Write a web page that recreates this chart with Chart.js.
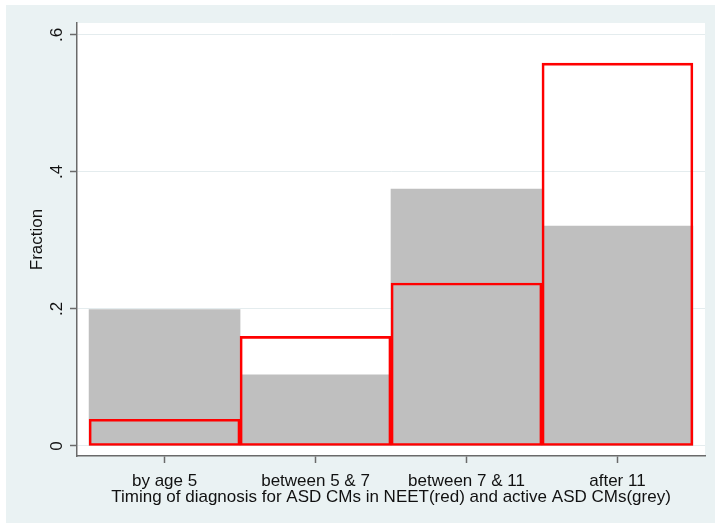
<!DOCTYPE html>
<html>
<head>
<meta charset="utf-8">
<script src="https://cdn.jsdelivr.net/npm/chart.js@4/dist/chart.umd.min.js"></script>
<style>
  html, body { margin: 0; padding: 0; background: #ffffff; }
  #wrap { position: absolute; left: 0; top: 0; width: 715px; height: 523px; }
</style>
</head>
<body>
<div id="wrap"><canvas id="c" width="715" height="523"></canvas></div>
<script>
// ---- data ----
const categories = ['by age 5', 'between 5 & 7', 'between 7 & 11', 'after 11'];
const activeGrey = [0.199, 0.104, 0.375, 0.321];   // active ASD CMs (grey)
const neetRed    = [0.039, 0.160, 0.238, 0.559];   // ASD CMs in NEET (red)
const yTickValues = [0, 0.2, 0.4, 0.6];
const yTickLabels = ['0', '.2', '.4', '.6'];
const xTitle = 'Timing of diagnosis for ASD CMs in NEET(red) and active ASD CMs(grey)';
const yTitle = 'Fraction';

const FONT = 'Liberation Sans, Arial, sans-serif';
const AXIS = '#6a6a6a';

const bgPlugin = {
  id: 'stataBg',
  beforeDraw(chart) {
    const ctx = chart.ctx, a = chart.chartArea;
    ctx.save();
    ctx.fillStyle = '#ffffff';
    ctx.fillRect(0, 0, chart.width, chart.height);
    ctx.fillStyle = '#EAF2F3';
    ctx.fillRect(6, 5, chart.width - 6, chart.height - 5);
    ctx.fillStyle = '#ffffff';
    ctx.fillRect(a.left, a.top, a.right - a.left, a.bottom - a.top);
    ctx.restore();
  }
};

new Chart(document.getElementById('c'), {
  type: 'bar',
  data: {
    datasets: [
      {
        label: 'NEET',
        data: categories.map((c, i) => ({ x: i + 0.5, y: neetRed[i] })),
        backgroundColor: 'rgba(0,0,0,0)',
        borderColor: '#FF0000',
        borderWidth: 2,
        borderSkipped: false,
        order: 0
      },
      {
        label: 'active',
        data: categories.map((c, i) => ({ x: i + 0.5, y: activeGrey[i] })),
        backgroundColor: '#BFBFBF',
        borderWidth: 0,
        order: 1
      }
    ]
  },
  options: {
    responsive: false,
    animation: false,
    events: [],
    grouped: false,
    barPercentage: 1,
    categoryPercentage: 1,
    layout: { padding: { left: 29, top: 23, right: 10, bottom: 17.5 } },
    plugins: { legend: { display: false }, tooltip: { enabled: false } },
    scales: {
      x: {
        type: 'linear',
        offset: false,
        min: -0.08,
        max: 4.08,
        afterBuildTicks(scale) { scale.ticks = categories.map((c, i) => ({ value: i + 0.5 })); },
        afterFit(scale) { scale.height = 49.5; scale.paddingLeft = 0; scale.paddingRight = 0; scale.paddingTop = 0; scale.paddingBottom = 0; },
        ticks: {
          callback: (v, i) => categories[i],
          font: { family: FONT, size: 17, lineHeight: 1 },
          color: '#111111',
          padding: 9.5,
          maxRotation: 0,
          minRotation: 0,
          autoSkip: false
        },
        grid: { drawOnChartArea: false, drawTicks: true, tickLength: 7, tickColor: AXIS, tickWidth: 1.5, offset: false },
        border: { display: true, color: AXIS, width: 1.5 },
        title: {
          display: true,
          text: xTitle,
          font: { family: FONT, size: 17, lineHeight: 1 },
          color: '#111111',
          padding: { top: 0.5, bottom: 0 }
        }
      },
      y: {
        type: 'linear',
        min: -0.0146,
        max: 0.6175,
        afterBuildTicks(scale) { scale.ticks = yTickValues.map(v => ({ value: v })); },
        afterFit(scale) { scale.width = 77 - 29; scale.paddingTop = 0; scale.paddingBottom = 0; scale.paddingLeft = 0; scale.paddingRight = 0; },
        ticks: {
          callback: (v, i) => yTickLabels[i],
          font: { family: FONT, size: 17, lineHeight: 1 },
          color: '#111111',
          padding: 5.6,
          minRotation: 90,
          maxRotation: 90,
          crossAlign: 'center'
        },
        grid: { color: '#E4ECEE', lineWidth: 1, drawTicks: true, tickLength: 7, tickColor: AXIS, tickWidth: 1.5 },
        border: { display: true, color: AXIS, width: 1.5 },
        title: {
          display: true,
          text: yTitle,
          font: { family: FONT, size: 17, lineHeight: 1 },
          color: '#111111',
          padding: { top: 0, bottom: 0 }
        }
      }
    }
  },
  plugins: [bgPlugin]
});
</script>
</body>
</html>
